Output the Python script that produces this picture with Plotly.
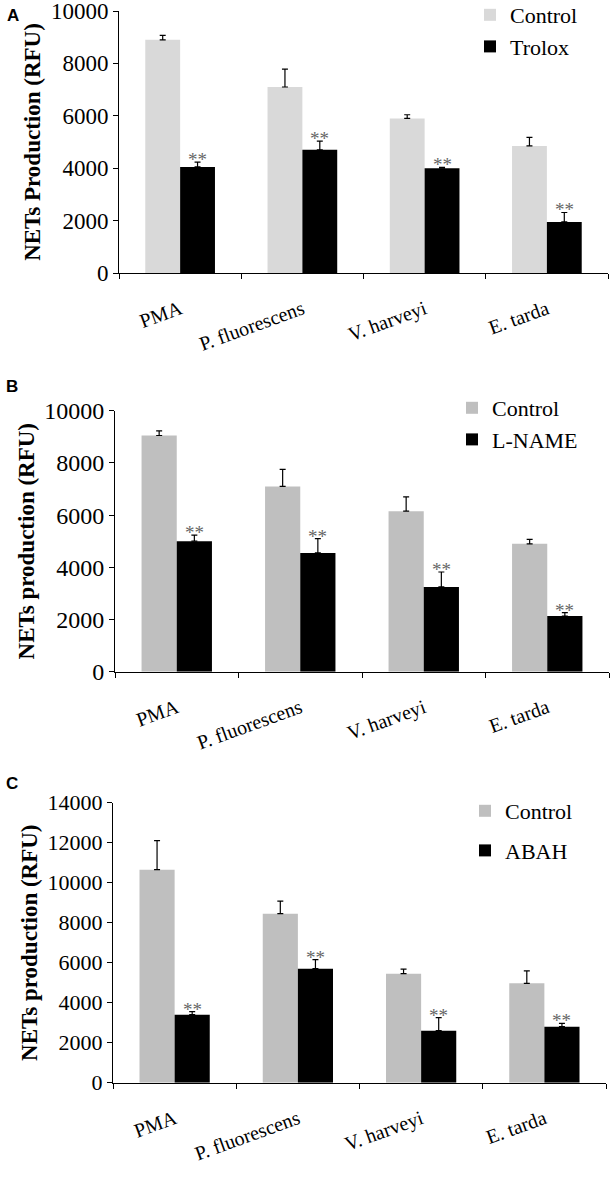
import plotly.graph_objects as go

W, H = 612, 1181

categories = ["PMA", "P. fluorescens", "V. harveyi", "E. tarda"]

a_control = [8900, 7100, 5900, 4850]
a_control_err = [170, 680, 140, 330]
a_trolox = [4050, 4700, 4000, 1950]
a_trolox_err = [180, 330, 30, 360]

b_control = [9050, 7100, 6150, 4900]
b_control_err = [180, 650, 550, 170]
b_lname = [5000, 4550, 3250, 2130]
b_lname_err = [230, 550, 570, 130]

c_control = [10650, 8450, 5450, 4970]
c_control_err = [1450, 630, 230, 620]
c_abah = [3400, 5700, 2600, 2800]
c_abah_err = [150, 450, 650, 170]

panels = [
    dict(letter="A", ctrl=a_control, ctrl_err=a_control_err, trt=a_trolox, trt_err=a_trolox_err,
         trt_name="Trolox", ctrl_color="#d9d9d9", ymax=10000, ytitle="NETs Production (RFU)",
         px=(119, 608), py=(11, 273), tickfont=23, leg=(470, -6), letter_pos=(13, 16), gap=0),
    dict(letter="B", ctrl=b_control, ctrl_err=b_control_err, trt=b_lname, trt_err=b_lname_err,
         trt_name="L-NAME", ctrl_color="#bfbfbf", ymax=10000, ytitle="NETs production (RFU)",
         px=(115, 609), py=(410.7, 671.7), tickfont=24, leg=(452, 387), letter_pos=(12, 386), gap=0),
    dict(letter="C", ctrl=c_control, ctrl_err=c_control_err, trt=c_abah, trt_err=c_abah_err,
         trt_name="ABAH", ctrl_color="#bfbfbf", ymax=14000, ytitle="NETs production (RFU)",
         px=(113, 606), py=(802.7, 1082.7), tickfont=22, leg=(465, 790), letter_pos=(12, 783), gap=8),
]

SERIF = "Liberation Serif, Times New Roman, serif"
fig = go.Figure()
annotations = []
bargap = 0.43

for i, p in enumerate(panels, start=1):
    sfx = "" if i == 1 else str(i)
    xa, ya = "x" + sfx, "y" + sfx
    leg = "legend" + sfx
    fig.add_trace(go.Bar(
        x=categories, y=p["ctrl"], name="Control", marker_color=p["ctrl_color"],
        marker_line_width=0, xaxis=xa, yaxis=ya, legend=leg, legendgroup=f"c{i}",
        error_y=dict(type="data", array=p["ctrl_err"], arrayminus=[0] * 4, symmetric=False,
                     color="black", thickness=1.2, width=3),
    ))
    fig.add_trace(go.Bar(
        x=categories, y=p["trt"], name=p["trt_name"], marker_color="black",
        marker_line_width=0, xaxis=xa, yaxis=ya, legend=leg, legendgroup=f"t{i}",
        error_y=dict(type="data", array=p["trt_err"], arrayminus=[0] * 4, symmetric=False,
                     color="black", thickness=1.2, width=3),
    ))
    x0, x1 = p["px"]
    y0, y1 = p["py"]
    cat_w = (x1 - x0) / len(categories)
    bar_w = cat_w * (1 - bargap) / 2
    fig.update_layout(**{
        "xaxis" + sfx: dict(domain=[x0 / W, x1 / W], anchor=ya, type="category", automargin=False,
                            showline=True, linecolor="black", linewidth=1,
                            ticks="outside", ticklen=5, tickcolor="black", tickson="boundaries",
                            tickangle=-20, showgrid=False, zeroline=False,
                            ticklabeloverflow="allow", ticklabelstandoff=16,
                            tickfont=dict(family=SERIF, size=20, color="black")),
        "yaxis" + sfx: dict(domain=[1 - y1 / H, 1 - y0 / H], anchor=xa, range=[0, p["ymax"]],
                            automargin=False, tickformat="d", ticklabeloverflow="allow",
                            dtick=2000, showline=True, linecolor="black", linewidth=1,
                            ticks="outside", ticklen=5, tickcolor="black", showgrid=False,
                            zeroline=False,
                            tickfont=dict(family=SERIF, size=p["tickfont"], color="black"),
                            title=dict(text="<b>" + p["ytitle"] + "</b>", standoff=3,
                                       font=dict(family=SERIF, size=23, color="black"))),
        leg: dict(x=p["leg"][0] / W, y=1 - p["leg"][1] / H, xanchor="left", yanchor="top",
                  bgcolor="rgba(0,0,0,0)", font=dict(family=SERIF, size=22, color="black"),
                  itemwidth=30, tracegroupgap=p["gap"], traceorder="grouped"),
    })
    for c, v, e in zip(categories, p["trt"], p["trt_err"]):
        annotations.append(dict(x=c, y=v + e, xref=xa, yref=ya, text="**", showarrow=False,
                                xshift=bar_w / 2, yanchor="bottom", yshift=-10,
                                font=dict(family=SERIF, size=19, color="#666666")))
    lx, ly = p["letter_pos"]
    annotations.append(dict(x=lx / W, y=1 - ly / H, xref="paper", yref="paper", text="<b>" + p["letter"] + "</b>",
                            showarrow=False, xanchor="center", yanchor="middle",
                            font=dict(family="Liberation Sans, Arial, sans-serif", size=17, color="black")))

fig.update_layout(
    template="none",
    width=W, height=H, margin=dict(l=0, r=0, t=0, b=0, autoexpand=False),
    paper_bgcolor="white", plot_bgcolor="white",
    barmode="group", bargap=bargap, bargroupgap=0,
    annotations=annotations, showlegend=True,
)

fig.write_html("out.html", config={"displayModeBar": False},
               post_script="document.body.style.margin='0';document.body.style.overflow='hidden';")
